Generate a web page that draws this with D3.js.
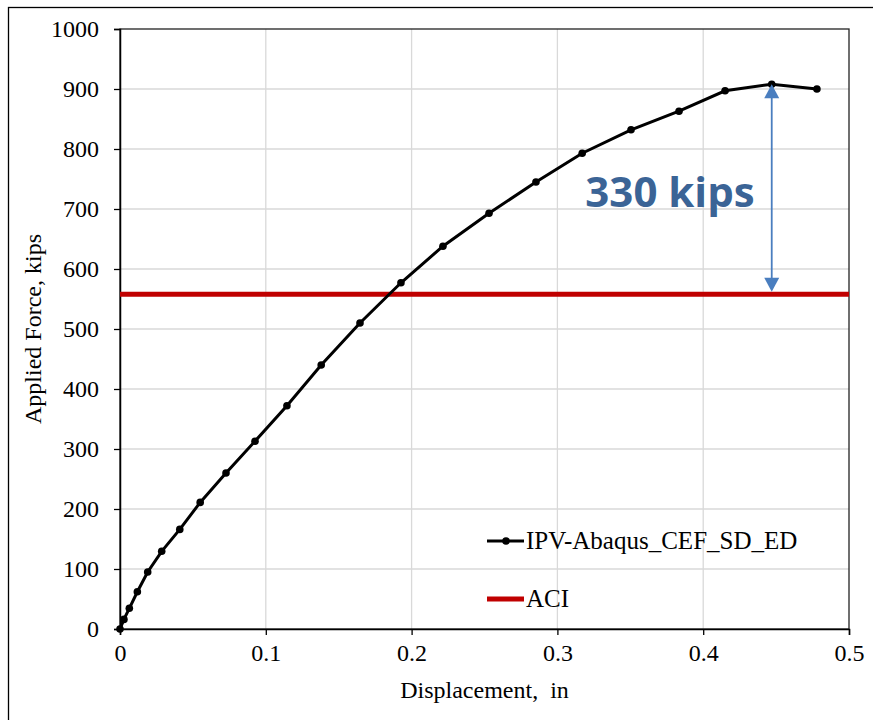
<!DOCTYPE html>
<html><head><meta charset="utf-8">
<script src="https://cdn.jsdelivr.net/npm/d3@7"></script>
<style>body{margin:0;background:#fff}svg{display:block}</style>
</head><body>
<script>
const dispIn = [0, 0.0027, 0.0064, 0.0119, 0.019, 0.0286, 0.041, 0.055, 0.0727, 0.0926, 0.1145, 0.138, 0.1646, 0.1927, 0.2215, 0.2531, 0.2853, 0.317, 0.3505, 0.3834, 0.415, 0.447, 0.478];
const forceKips = [0, 16, 34.5, 62, 95, 129.5, 166, 211, 260, 313, 372, 440, 510, 577, 638, 693, 745, 793, 832, 863, 897, 908, 900];
const aciForce = 558;
const xTicks = [0, 0.1, 0.2, 0.3, 0.4, 0.5];
const yTicks = [0, 100, 200, 300, 400, 500, 600, 700, 800, 900, 1000];
const seriesNames = ["IPV-Abaqus_CEF_SD_ED", "ACI"];
const annotation = "330 kips";

const W = 873, H = 720;
const m = {left:120, top:29, right:849, bottom:629};
const svg = d3.select("body").append("svg").attr("width", W).attr("height", H);
svg.append("rect").attr("x",8.5).attr("y",7.5).attr("width",1000).attr("height",1000)
  .attr("fill","#fff").attr("stroke","#000").attr("stroke-width",1.3);

const x = d3.scaleLinear().domain([0,0.5]).range([m.left, m.right]);
const y = d3.scaleLinear().domain([0,1000]).range([m.bottom, m.top]);
const serif = "'Liberation Serif','Times New Roman',serif";
const fs = 24;

// gridlines
svg.append("g").selectAll("line").data(yTicks.filter(d=>d>0&&d<1000)).join("line")
  .attr("x1",m.left).attr("x2",m.right).attr("y1",d=>y(d)).attr("y2",d=>y(d))
  .attr("stroke","#d9d9d9").attr("stroke-width",1.3);
svg.append("g").selectAll("line").data(xTicks.filter(d=>d>0&&d<0.5)).join("line")
  .attr("y1",m.top).attr("y2",m.bottom).attr("x1",d=>x(d)).attr("x2",d=>x(d))
  .attr("stroke","#d9d9d9").attr("stroke-width",1.3);

// plot border
svg.append("rect").attr("x",m.left).attr("y",m.top).attr("width",m.right-m.left).attr("height",m.bottom-m.top)
  .attr("fill","none").attr("stroke","#222").attr("stroke-width",1.3);

// axes
const xAxis = svg.append("g").attr("transform",`translate(0,${m.bottom})`)
  .call(d3.axisBottom(x).tickValues(xTicks).tickFormat(d=>d===0?"0":d3.format(".1f")(d)).tickSize(6).tickPadding(9));
const yAxis = svg.append("g").attr("transform",`translate(${m.left},0)`)
  .call(d3.axisLeft(y).tickValues(yTicks).tickFormat(d3.format("d")).tickSize(6).tickPadding(15));
[xAxis,yAxis].forEach(a=>{
  a.select(".domain").attr("stroke","#000").attr("stroke-width",1.5);
  a.selectAll(".tick line").attr("stroke","#000").attr("stroke-width",1.3);
  a.selectAll("text").attr("font-family",serif).attr("font-size",fs).attr("fill","#000");
});

// axis titles
svg.append("text").attr("x",(m.left+m.right)/2).attr("y",698).attr("text-anchor","middle")
  .attr("font-family",serif).attr("font-size",fs).attr("fill","#000").style("white-space","pre").text("Displacement,  in");
svg.append("text").attr("transform",`translate(41,${(m.top+m.bottom)/2}) rotate(-90)`).attr("text-anchor","middle")
  .attr("font-family",serif).attr("font-size",fs).attr("fill","#000").text("Applied Force, kips");

// ACI line
svg.append("line").attr("x1",m.left).attr("x2",m.right).attr("y1",y(aciForce)).attr("y2",y(aciForce))
  .attr("stroke","#c00000").attr("stroke-width",5);

// series
const pts = dispIn.map((d,i)=>[d, forceKips[i]]);
svg.append("path").datum(pts).attr("fill","none").attr("stroke","#000").attr("stroke-width",3)
  .attr("d", d3.line().x(d=>x(d[0])).y(d=>y(d[1])));
svg.append("g").selectAll("circle").data(pts).join("circle")
  .attr("cx",d=>x(d[0])).attr("cy",d=>y(d[1])).attr("r",3.8).attr("fill","#000");

// annotation arrow
const peakIdx = forceKips.indexOf(d3.max(forceKips));
const ax = x(dispIn[peakIdx]);
const blue = "#4a7ebf";
const yTop = y(forceKips[peakIdx]), yBot = y(aciForce) - 2.5;
svg.append("line").attr("x1",ax).attr("x2",ax).attr("y1",yTop+12).attr("y2",yBot-12)
  .attr("stroke",blue).attr("stroke-width",1.8);
svg.append("path").attr("d",`M${ax},${yTop} L${ax-7.5},${yTop+14} L${ax+7.5},${yTop+14} Z`).attr("fill",blue);
svg.append("path").attr("d",`M${ax},${yBot} L${ax-7.5},${yBot-14} L${ax+7.5},${yBot-14} Z`).attr("fill",blue);
svg.append("text").attr("x",670).attr("y",207).attr("text-anchor","middle")
  .attr("font-family","'Open Sans','Noto Sans',sans-serif").attr("font-weight","bold").attr("font-size",42)
  .attr("fill","#3b6496").text(annotation);

// legend
const lg = svg.append("g");
lg.append("line").attr("x1",487).attr("x2",524).attr("y1",541).attr("y2",541).attr("stroke","#000").attr("stroke-width",3);
lg.append("circle").attr("cx",506).attr("cy",541).attr("r",3.8).attr("fill","#000");
lg.append("text").attr("x",526).attr("y",549).attr("font-family",serif).attr("font-size",25).attr("fill","#000").text(seriesNames[0]);
lg.append("line").attr("x1",487).attr("x2",524).attr("y1",599).attr("y2",599).attr("stroke","#c00000").attr("stroke-width",5);
lg.append("text").attr("x",526).attr("y",607).attr("font-family",serif).attr("font-size",25).attr("fill","#000").text(seriesNames[1]);
</script>
</body></html>
